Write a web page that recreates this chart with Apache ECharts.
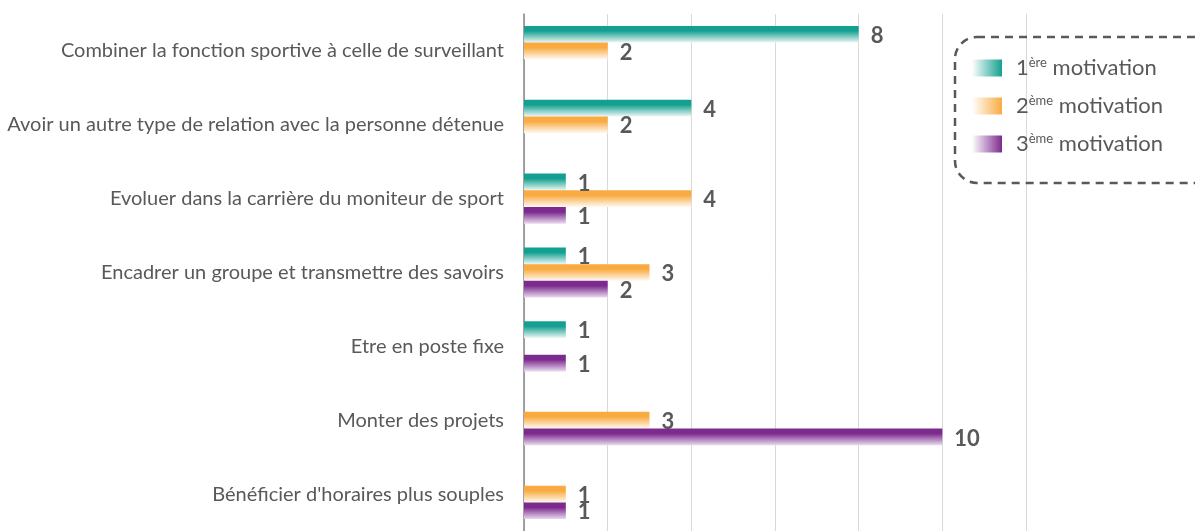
<!DOCTYPE html>
<html>
<head>
<meta charset="utf-8">
<script src="https://cdn.jsdelivr.net/npm/echarts@6/dist/echarts.min.js"></script>
<style>
  html, body { margin: 0; padding: 0; background: #fff; }
  #box01 { width: 1195px; height: 531px; }
</style>
</head>
<body>
<div id="box01"></div>
<script>
// categories, top to bottom
var categories = [
    'Combiner la fonction sportive à celle de surveillant',
    'Avoir un autre type de relation avec la personne détenue',
    'Evoluer dans la carrière du moniteur de sport',
    'Encadrer un groupe et transmettre des savoirs',
    'Etre en poste fixe',
    'Monter des projets',
    "Bénéficier d'horaires plus souples"
];
var seriesNames = ['1ère motivation', '2ème motivation', '3ème motivation'];
// '-' = pas de barre
var motivation1 = [8, 4, 1, 1, 1, '-', '-'];
var motivation2 = [2, 2, 4, 3, '-', 3, 1];
var motivation3 = ['-', '-', 1, 2, 1, 10, 1];
var colors = ['#14a090', '#f9ab42', '#7d2a8e'];
var fadeColors = ['#eef7f6', '#fffaf3', '#e9dcee'];

var myChart = echarts.init(document.getElementById('box01'));

function barFill(i) {
    // degrade vertical : couleur en haut, presque blanc en bas
    return new echarts.graphic.LinearGradient(0, 0, 0, 1, [
        {offset: 0, color: colors[i]},
        {offset: 0.3, color: colors[i]},
        {offset: 1, color: fadeColors[i]}
    ]);
}
function legendFill(i) {
    return new echarts.graphic.LinearGradient(0, 0, 1, 0, [
        {offset: 0, color: '#ffffff'},
        {offset: 1, color: colors[i]}
    ]);
}

var allData = [motivation1, motivation2, motivation3];
var series = [];
for (var i = 0; i < 3; i++) {
    series.push({
        name: seriesNames[i],
        type: 'bar',
        data: allData[i],
        barWidth: 16.7,
        barGap: '0%',
        itemStyle: {color: barFill(i)},
        label: {
            show: true,
            position: 'right',
            distance: 12,
            offset: [0, 1.5],
            color: '#595959',
            fontFamily: 'Lato',
            fontWeight: 'bold',
            fontSize: 22
        },
        animation: false
    });
}

var option = {
    backgroundColor: '#ffffff',
    animation: false,
    grid: {
        left: 524,
        top: 14,
        right: 169,
        height: 521.5
    },
    legend: {
        orient: 'vertical',
        left: 967,
        top: 50,
        itemWidth: 30,
        itemHeight: 17,
        itemGap: 12,
        selectedMode: false,
        data: seriesNames.map(function (n, i) {
            return {name: n, icon: 'rect', itemStyle: {color: legendFill(i)}};
        }),
        formatter: function (n) {
            return n.replace(/^(\d)(\S+)/, '$1{s|$2}');
        },
        textStyle: {
            color: '#595959',
            fontFamily: 'Lato',
            fontSize: 22,
            lineHeight: 26,
            padding: [0, 0, 0, 9],
            rich: {
                s: {fontSize: 13, fontFamily: 'Lato', color: '#595959', lineHeight: 26, padding: [0, 0, 10, 0]}
            }
        }
    },
    graphic: [{
        type: 'rect',
        shape: {x: 955, y: 37, width: 260, height: 146, r: 22},
        style: {fill: 'none', stroke: '#595959', lineWidth: 2.5, lineDash: [8, 6]},
        z: 100
    }],
    xAxis: {
        type: 'value',
        min: 0,
        max: 12,
        interval: 2,
        axisLine: {show: false},
        axisTick: {show: false},
        axisLabel: {show: false},
        splitLine: {lineStyle: {color: '#d9d9d9', width: 1}}
    },
    yAxis: {
        type: 'category',
        inverse: true,
        data: categories,
        axisLine: {lineStyle: {color: '#868686', width: 1.5}},
        axisTick: {length: 7, lineStyle: {color: '#868686', width: 1.5}},
        axisLabel: {
            color: '#595959',
            fontFamily: 'Lato',
            fontSize: 20,
            margin: 20
        }
    },
    series: series
};
myChart.setOption(option);
</script>
</body>
</html>
